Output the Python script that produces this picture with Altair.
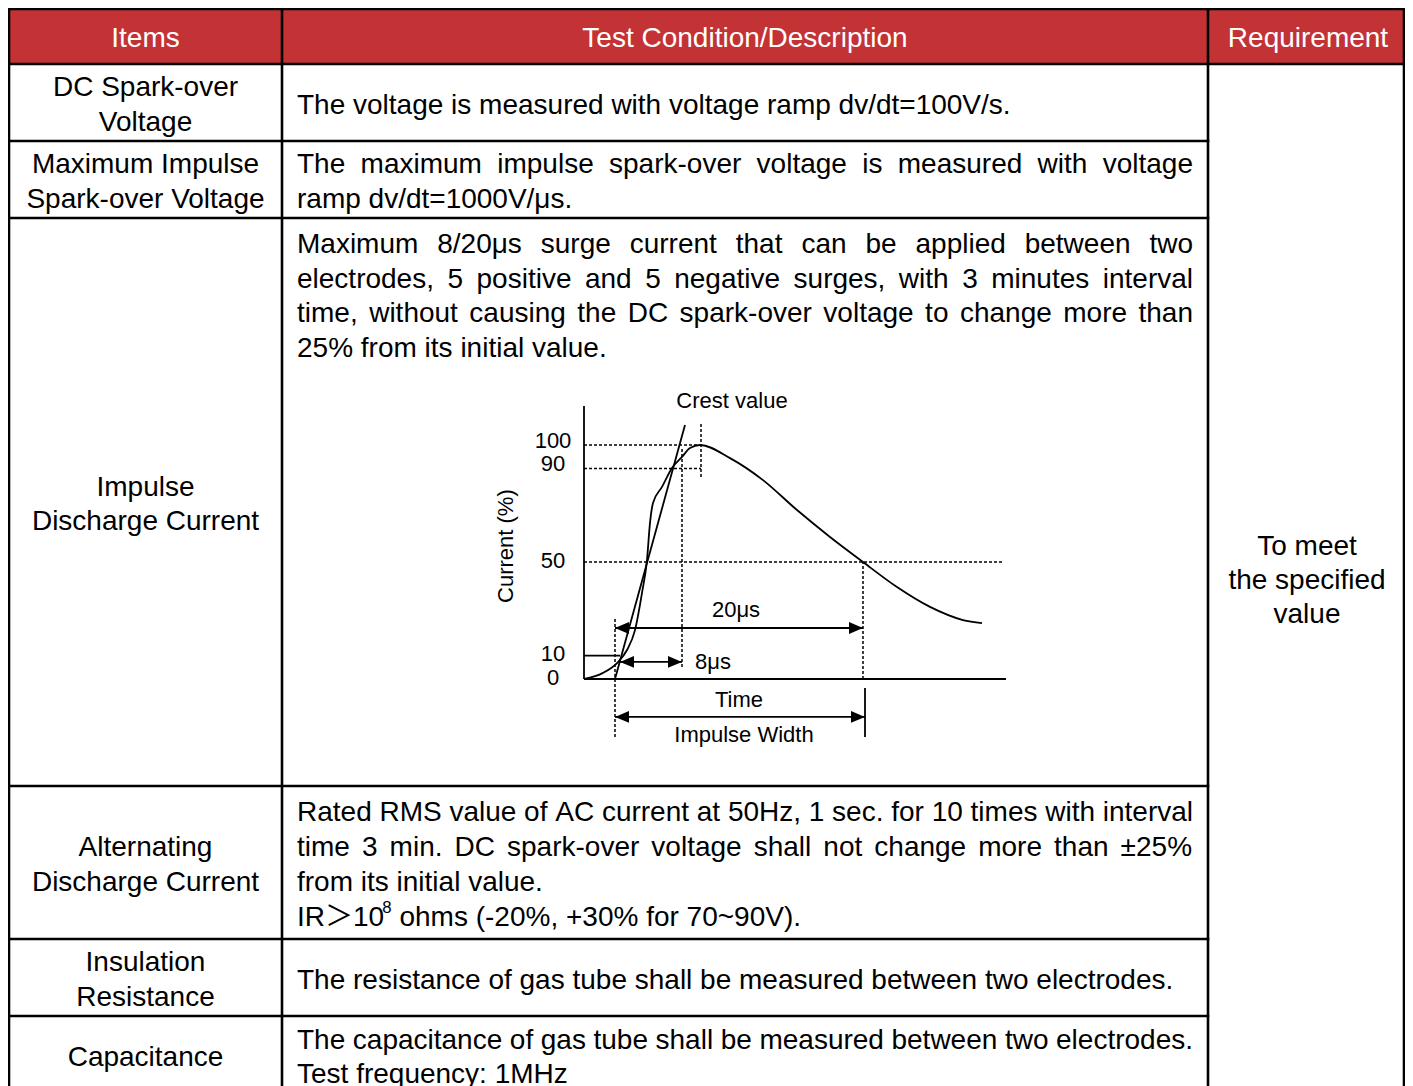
import altair as alt
import pandas as pd

FONT = "Liberation Sans, Arial, Noto Sans CJK SC, sans-serif"
FS = 28      # table text size
DFS = 22     # diagram text size
LH = 34.7    # table line height

# ---------------- table content ----------------
headers = ["Items", "Test Condition/Description", "Requirement"]
items = [
    ["DC Spark-over", "Voltage"],
    ["Maximum Impulse", "Spark-over Voltage"],
    ["Impulse", "Discharge Current"],
    ["Alternating", "Discharge Current"],
    ["Insulation", "Resistance"],
    ["Capacitance"],
]
# (line, justified)
descriptions = [
    [("The voltage is measured with voltage ramp dv/dt=100V/s.", False)],
    [("The maximum impulse spark-over voltage is measured with voltage", True),
     ("ramp dv/dt=1000V/μs.", False)],
    [("Maximum 8/20μs surge current that can be applied between two", True),
     ("electrodes, 5 positive and 5 negative surges, with 3 minutes interval", True),
     ("time, without causing the DC spark-over voltage to change more than", True),
     ("25% from its initial value.", False)],
    [("Rated RMS value of AC current at 50Hz, 1 sec. for 10 times with interval", True),
     ("time 3 min. DC spark-over voltage shall not change more than ±25%", True),
     ("from its initial value.", False),
     ("IR＞10|8|ohms (-20%, +30% for 70~90V).", False)],
    [("The resistance of gas tube shall be measured between two electrodes.", False)],
    [("The capacitance of gas tube shall be measured between two electrodes.", True),
     ("Test frequency: 1MHz", False)],
]
requirement = ["To meet", "the specified", "value"]

# ---------------- diagram content ----------------
wave_u = [0, 19, 33, 43, 51, 58, 63, 66, 69, 78, 88, 98, 106, 116,
          146, 179, 213, 246, 279, 313, 346, 379, 398]
wave_pct = [0, 2.6, 6.8, 12.4, 20.9, 36.8, 50.9, 66.7, 75.2, 82.1, 90.2, 94.9, 98.7, 100,
            94.4, 85.0, 72.2, 60.7, 50.0, 39.3, 30.8, 25.2, 23.9]
front_u = [31, 101]
front_pct = [0, 108.5]
tick_labels = ["100", "90", "50", "10", "0"]
tick_label_pct = [101.7, 91.9, 50.4, 10.7, 0.4]

# ---------------- layout ----------------
PAGE_X0, PAGE_X1 = 8, 1405
PAGE_Y0, PAGE_Y1 = 8, 1086
TY = 2  # text vertical nudge
col_edges = [9, 282, 1208, 1404]
row_edges = [9, 64, 141, 218, 786, 939, 1016, 1094]
DESC_L, DESC_R = 297, 1193

AW = {' ': 278, '!': 278, '"': 355, '#': 556, '$': 556, '%': 889, '&': 667, "'": 191,
      '(': 333, ')': 333, '*': 389, '+': 584, ',': 278, '-': 333, '.': 278, '/': 278,
      ':': 278, ';': 278, '<': 584, '=': 584, '>': 584, '?': 556, '@': 1015, '[': 278,
      ']': 278, '_': 556, '~': 584, '±': 584, 'µ': 576, 'μ': 576, '＞': 900}
for c in "0123456789":
    AW[c] = 556
AW.update(dict(A=667, B=667, C=722, D=722, E=667, F=611, G=778, H=722, I=278, J=500, K=667,
               L=556, M=833, N=722, O=778, P=667, Q=778, R=722, S=667, T=611, U=722, V=667,
               W=944, X=667, Y=667, Z=611))
AW.update(dict(a=556, b=556, c=500, d=556, e=556, f=278, g=556, h=556, i=222, j=222, k=500,
               l=222, m=833, n=556, o=556, p=556, q=556, r=333, s=500, t=278, u=556, v=500,
               w=722, x=500, y=500, z=500))


def tw(s, fs):
    return sum(AW.get(ch, 556) for ch in s) * fs / 1000.0


# ---------------- build table records ----------------
rects = pd.DataFrame([dict(x=col_edges[0], x2=col_edges[-1], y=row_edges[0], y2=row_edges[1])])

rules = []
rules.append(dict(x=col_edges[0], x2=col_edges[-1], y=row_edges[0], y2=row_edges[0]))
rules.append(dict(x=col_edges[0], x2=col_edges[-1], y=row_edges[1], y2=row_edges[1]))
for yv in row_edges[2:-1]:
    rules.append(dict(x=col_edges[0], x2=col_edges[2], y=yv, y2=yv))
for xv in col_edges:
    rules.append(dict(x=xv, x2=xv, y=row_edges[0], y2=row_edges[-1]))
rules = pd.DataFrame(rules)

center_txt = []
for i, h in enumerate(headers):
    center_txt.append(dict(x=(col_edges[i] + col_edges[i + 1]) / 2 + (2 if i == 2 else 0),
                           y=(row_edges[0] + row_edges[1]) / 2 + 0.5 + TY, t=h, c="white"))
for r, lines in enumerate(items):
    cy = (row_edges[r + 1] + row_edges[r + 2]) / 2
    n = len(lines)
    for k, ln in enumerate(lines):
        center_txt.append(dict(x=(col_edges[0] + col_edges[1]) / 2,
                               y=cy + (k - (n - 1) / 2) * LH + 1 + TY, t=ln, c="black"))
req_cy = (row_edges[1] + row_edges[-1]) / 2
for k, ln in enumerate(requirement):
    center_txt.append(dict(x=(col_edges[2] + col_edges[3]) / 2 + 1,
                           y=req_cy + (k - 1) * 34.2 + TY, t=ln, c="black"))
center_txt = pd.DataFrame(center_txt)

left_txt = []
for r, lines in enumerate(descriptions):
    top, bot = row_edges[r + 1], row_edges[r + 2]
    n = len(lines)
    for k, (ln, just) in enumerate(lines):
        if r == 2:
            y = top + 25 + k * LH + TY
        else:
            y = (top + bot) / 2 + (k - (n - 1) / 2) * LH + 1 + TY
        if "|" in ln:
            base, sup, rest = ln.split("|")
            x = DESC_L
            left_txt.append(dict(x=x, y=y, t=base, s=FS))
            x += tw(base, FS) + 1
            left_txt.append(dict(x=x, y=y - 10, t=sup, s=FS * 0.6))
            x += tw(sup, FS * 0.6) + tw(" ", FS)
            left_txt.append(dict(x=x, y=y, t=rest, s=FS))
        elif just:
            words = ln.split(" ")
            total = sum(tw(w, FS) for w in words)
            gap = (DESC_R - DESC_L - total) / (len(words) - 1)
            x = DESC_L
            for w in words:
                left_txt.append(dict(x=x, y=y, t=w, s=FS))
                x += tw(w, FS) + gap
        else:
            left_txt.append(dict(x=DESC_L, y=y, t=ln, s=FS))
left_txt = pd.DataFrame(left_txt)

# ---------------- scales ----------------
XS = alt.Scale(domain=[PAGE_X0, PAGE_X1], nice=False, zero=False)
YS = alt.Scale(domain=[PAGE_Y0, PAGE_Y1], reverse=True, nice=False, zero=False)

# diagram: origin of its axes at page pixel (584, 679), 2.34 px per percent
OX, OY, PPP = 584, 679, 2.34
XD = alt.Scale(domain=[PAGE_X0 - OX, PAGE_X1 - OX], nice=False, zero=False)
YD = alt.Scale(domain=[(OY - PAGE_Y1) / PPP, (OY - PAGE_Y0) / PPP], nice=False, zero=False)


def X(f, s):
    return alt.X(f, type="quantitative", scale=s, axis=None)


def Y(f, s):
    return alt.Y(f, type="quantitative", scale=s, axis=None)


header_bg = alt.Chart(rects).mark_rect(color="#C33234").encode(
    x=X("x", XS), x2="x2", y=Y("y", YS), y2="y2")
borders = alt.Chart(rules).mark_rule(color="black", strokeWidth=2.6, strokeCap="square").encode(
    x=X("x", XS), x2="x2", y=Y("y", YS), y2="y2")
ctext = alt.Chart(center_txt).mark_text(font=FONT, fontSize=FS, align="center",
                                        baseline="middle").encode(
    x=X("x", XS), y=Y("y", YS), text="t:N", color=alt.Color("c:N", scale=None))
ltext = alt.Chart(left_txt).mark_text(font=FONT, align="left", baseline="middle",
                                      color="black").encode(
    x=X("x", XS), y=Y("y", YS), text="t:N", size=alt.Size("s:Q", scale=None))
table = alt.layer(header_bg, borders, ctext, ltext)

# ---------------- diagram records ----------------
curves = pd.DataFrame(
    [dict(u=u, p=p, s="wave") for u, p in zip(wave_u, wave_pct)] +
    [dict(u=u, p=p, s="front") for u, p in zip(front_u, front_pct)])

p20, p8, pw = 21.8, 7.3, -16.2
solid = pd.DataFrame([
    dict(u=0, u2=0, p=0, p2=116.7),
    dict(u=0, u2=422, p=0, p2=0),
    dict(u=0, u2=36, p=10, p2=10),
    dict(u=281, u2=281, p=-24.8, p2=-3.8),
    dict(u=31, u2=279, p=p20, p2=p20),
    dict(u=36, u2=98, p=p8, p2=p8),
    dict(u=31, u2=281, p=pw, p2=pw),
])
dotted = pd.DataFrame([
    dict(u=0, u2=116, p=100, p2=100),
    dict(u=0, u2=117, p=90, p2=90),
    dict(u=0, u2=419, p=50, p2=50),
    dict(u=117, u2=117, p=86.3, p2=109.8),
    dict(u=98, u2=98, p=5.1, p2=99.1),
    dict(u=31, u2=31, p=-24.8, p2=26.5),
    dict(u=279, u2=279, p=0, p2=50),
])
arrow_r = pd.DataFrame([dict(u=279, p=p20), dict(u=98, p=p8), dict(u=281, p=pw)])
arrow_l = pd.DataFrame([dict(u=31, p=p20), dict(u=36, p=p8), dict(u=31, p=pw)])

dctext = pd.DataFrame(
    [dict(u=148, p=118.8, t="Crest value"), dict(u=152, p=29.5, t="20μs"),
     dict(u=155, p=-9.0, t="Time"), dict(u=160, p=-23.9, t="Impulse Width")] +
    [dict(u=-31, p=pp, t=tl) for tl, pp in zip(tick_labels, tick_label_pct)])
dltext = pd.DataFrame([dict(u=111, p=7.3, t="8μs")])
drtext = pd.DataFrame([dict(u=-78, p=56.8, t="Current (%)")])

d_curves = alt.Chart(curves).mark_line(color="black", strokeWidth=1.8, interpolate="monotone").encode(
    x=X("u", XD), y=Y("p", YD), detail="s:N", order="u:Q")
d_solid = alt.Chart(solid).mark_rule(color="black", strokeWidth=1.8).encode(
    x=X("u", XD), x2="u2", y=Y("p", YD), y2="p2")
d_dotted = alt.Chart(dotted).mark_rule(color="black", strokeWidth=1.5, strokeDash=[3, 2]).encode(
    x=X("u", XD), x2="u2", y=Y("p", YD), y2="p2")
d_ar = alt.Chart(arrow_r).mark_point(shape="M1,0L-1,-0.85L-1,0.85Z", size=196, filled=True,
                                     color="black", opacity=1, xOffset=-7).encode(
    x=X("u", XD), y=Y("p", YD))
d_al = alt.Chart(arrow_l).mark_point(shape="M-1,0L1,-0.85L1,0.85Z", size=196, filled=True,
                                     color="black", opacity=1, xOffset=7).encode(
    x=X("u", XD), y=Y("p", YD))
d_ct = alt.Chart(dctext).mark_text(font=FONT, fontSize=DFS, align="center", baseline="middle",
                                   color="black").encode(x=X("u", XD), y=Y("p", YD), text="t:N")
d_lt = alt.Chart(dltext).mark_text(font=FONT, fontSize=DFS, align="left", baseline="middle",
                                   color="black").encode(x=X("u", XD), y=Y("p", YD), text="t:N")
d_rt = alt.Chart(drtext).mark_text(font=FONT, fontSize=DFS, align="center", baseline="middle",
                                   angle=270, color="black").encode(x=X("u", XD), y=Y("p", YD), text="t:N")
diagram = alt.layer(d_dotted, d_curves, d_solid, d_ar, d_al, d_ct, d_lt, d_rt)

chart = alt.layer(table, diagram).resolve_scale(x="independent", y="independent").properties(
    width=PAGE_X1 - PAGE_X0, height=PAGE_Y1 - PAGE_Y0, padding=0,
    autosize=alt.AutoSizeParams(type="none"),
    background="white",
).configure_view(stroke=None)

chart.save("out.html", embed_options={"renderer": "svg", "actions": False})
